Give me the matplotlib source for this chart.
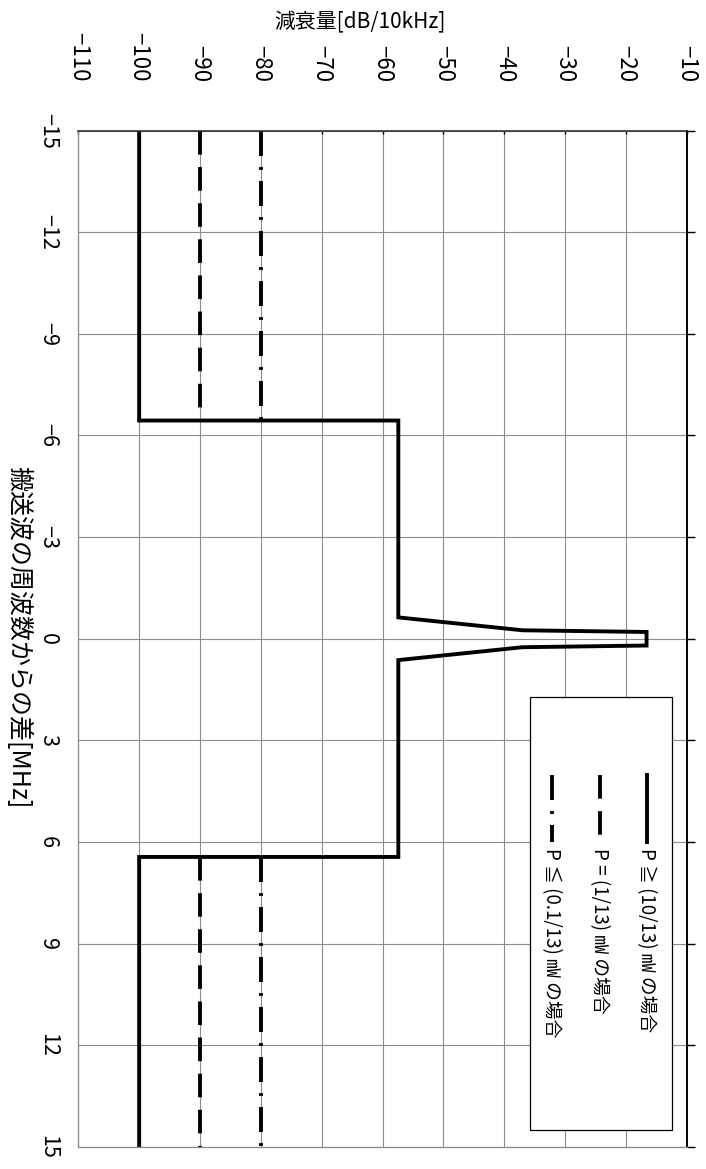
import numpy as np
import matplotlib
matplotlib.use('Agg')
import matplotlib.pyplot as plt
from matplotlib.patches import Rectangle
from matplotlib.lines import Line2D

plt.rcParams['font.family'] = ['Noto Sans CJK JP', 'DejaVu Sans']
plt.rcParams['lines.scale_dashes'] = False

# frequency offset from the carrier [MHz] vs attenuation [dB/10kHz]
f_high = [-15, -6.44, -6.44, -0.63, -0.25, -0.2, 0.2, 0.25, 0.63, 6.44, 6.44, 15]
a_high = [-100, -100, -57.4, -57.4, -37, -16.6, -16.6, -37, -57.4, -57.4, -100, -100]
f_mid = [-15, -6.44, np.nan, 6.44, 15]
a_mid = [-90, -90, np.nan, -90, -90]
f_low = [-15, -6.44, np.nan, 6.44, 15]
a_low = [-80, -80, np.nan, -80, -80]

labels = ['P ≧ (10/13) ㎽ の場合', 'P = (1/13) ㎽ の場合', 'P ≦ (0.1/13) ㎽ の場合']
db_ticks = np.arange(-110, 0, 10)
mhz_ticks = np.arange(-15, 16, 3)

W, H = 706, 1169
fig = plt.figure(figsize=(W/100, H/100), dpi=100)
ax = fig.add_axes([78.3/W, 22/H, 608.4/W, 1016.5/H])

lw = 2.8
ax.plot(a_high, f_high, color='k', lw=lw, solid_joinstyle='miter')
ax.plot(a_mid, f_mid, color='k', lw=lw, dashes=(17, 9))
ax.plot(a_low, f_low, color='k', lw=lw, dashes=(18, 8, 2, 8))

def fmt(v):
    return str(v).replace('-', '\u2212')

ax.set_xlim(-110, -10)
ax.set_ylim(15, -15)
ax.xaxis.tick_top()
ax.set_xticks(db_ticks)
ax.set_xticklabels([fmt(v) for v in db_ticks], rotation=-90, fontsize=16)
ax.set_yticks(mhz_ticks)
ax.set_yticklabels([fmt(v) for v in mhz_ticks], rotation=-90, fontsize=15.5, va='center')

ax.grid(True, color='#8c8c8c', lw=0.8)
ax.set_axisbelow(True)
ax.tick_params(axis='x', direction='in', length=2.5, width=1, pad=35)
ax.tick_params(axis='y', left=False, right=True, direction='out', length=6, width=1, pad=8)

for s in ['left', 'bottom']:
    ax.spines[s].set_color('#8c8c8c')
    ax.spines[s].set_linewidth(0.9)
ax.spines['top'].set_color('#333333')
ax.spines['top'].set_linewidth(1.2)
ax.spines['right'].set_color('k')
ax.spines['right'].set_linewidth(1.4)

fig.text(360/W, 1 - 22/H, '減衰量[dB/10kHz]', ha='center', va='center', fontsize=15)
fig.text(18/W, 1 - 637/H, '搬送波の周波数からの差[MHz]', rotation=-90,
         ha='center', va='center', fontsize=18)

# legend (drawn by hand because the whole chart is turned on its side)
ax.add_patch(Rectangle((0.742, 0.0167), 0.2346, 0.426, transform=ax.transAxes,
                       facecolor='white', edgecolor='k', lw=0.9, zorder=5))
styles = [dict(), dict(dashes=(17, 9)), dict(dashes=(18, 8, 2, 8))]
xs = [0.934, 0.857, 0.778]
for x, st, lab in zip(xs, styles, labels):
    ax.add_line(Line2D([x, x], [0.366, 0.300], transform=ax.transAxes,
                       color='k', lw=lw, zorder=6, **st))
    ax.text(x, 0.294, lab, transform=ax.transAxes, rotation=-90,
            rotation_mode='anchor', ha='left', va='center', fontsize=13.5, zorder=6)

fig.savefig('out.png', dpi=100)
